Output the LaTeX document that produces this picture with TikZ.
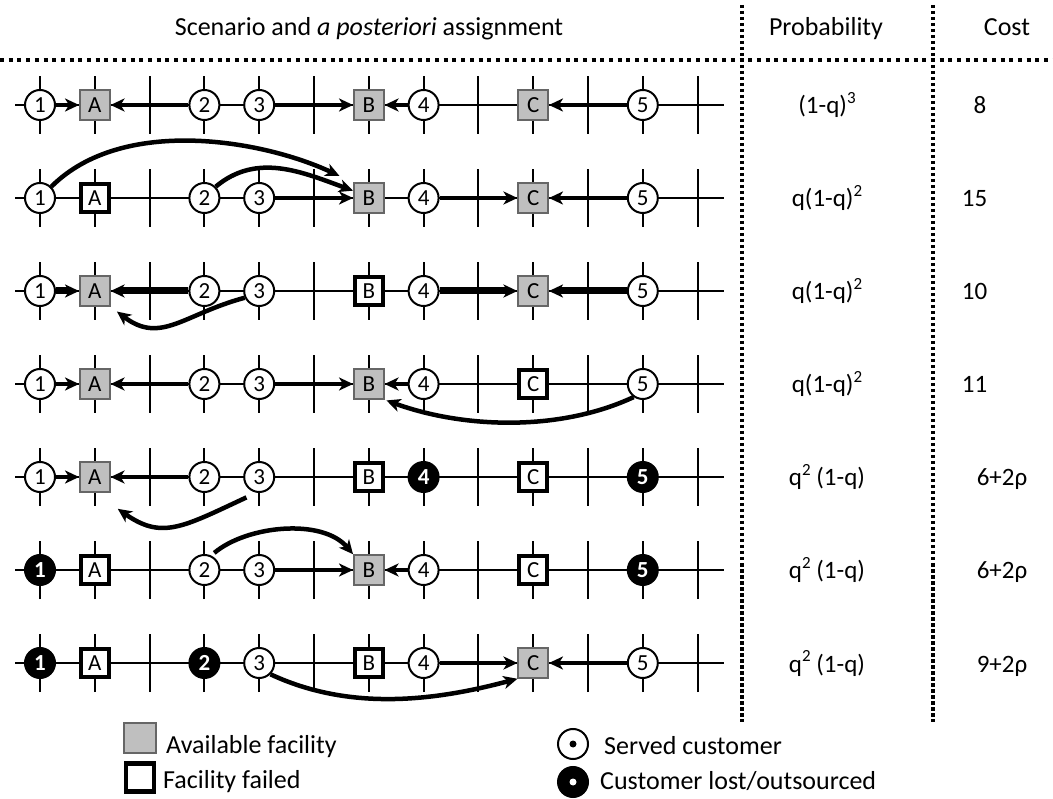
\documentclass[tikz,border=0pt]{standalone}
\usepackage{fontspec}
\setmainfont{Carlito}
\usetikzlibrary{arrows.meta}

\newcommand{\powr}[1]{\raisebox{0.42em}{\fontsize{17}{17}\selectfont #1}}

\tikzset{
  cust/.style={draw, circle, line width=2pt, fill=white, minimum size=30pt, inner sep=0pt, font=\fontsize{23}{23}\selectfont},
  lost/.style={cust, fill=black, text=white, font=\fontsize{23}{23}\selectfont\bfseries},
  fac/.style={draw=black!60, rectangle, line width=1.5pt, fill=black!25, minimum size=30pt, inner sep=0pt, font=\fontsize{23}{23}\selectfont},
  failed/.style={fac, draw=black, fill=white, line width=4.5pt, minimum size=28pt},
  assign/.style={-{Stealth[length=14pt,width=13pt,inset=4pt]}, line width=4.5pt},
  heavy/.style={assign, line width=7pt},
  street/.style={line width=2pt},
  hsep/.style={line width=4pt, dash pattern=on 4pt off 4.7pt},
  vsep/.style={line width=3.5pt, dash pattern=on 3.5pt off 2.5pt},
  head/.style={font=\fontsize{26}{26}\selectfont, anchor=base},
  txt/.style={font=\fontsize{25}{25}\selectfont, anchor=base},
  key/.style={font=\fontsize{26}{26}\selectfont, anchor=base west, inner sep=0pt}
}

\begin{document}
\begin{tikzpicture}[x=1pt, y=1pt]
  \useasboundingbox (0,0) rectangle (1053,-799);

  % table head
  \node[head] (hscen) at (369,-36) {Scenario and \textit{a posteriori} assignment};
  \node[head] (hprob) at (826,-36) {Probability};
  \node[head] (hcost) at (1007,-36) {Cost};
  \draw[hsep] (0,-60) -- (1053,-60);
  \draw[vsep] (742,-5) -- (742,-722);
  \draw[vsep] (933,-5) -- (933,-722);

  % the line with its sites, one per scenario
  \foreach \y in {-105,-198,...,-663} {
    \draw[street] (15,\y) -- (724,\y);
    \foreach \k in {0,...,12}
      \draw[street] ({40+54.8*\k},{\y-29}) -- ({40+54.8*\k},{\y+29});
  }

  % scenario 1: all facilities open
  \node[cust] (r1c1) at (40,-105) {1};
  \node[fac] (r1A) at (94.8,-105) {A};
  \node[cust] (r1c2) at (204.4,-105) {2};
  \node[cust] (r1c3) at (259.2,-105) {3};
  \node[fac] (r1B) at (368.8,-105) {B};
  \node[cust] (r1c4) at (423.6,-105) {4};
  \node[fac] (r1C) at (533.2,-105) {C};
  \node[cust] (r1c5) at (642.8,-105) {5};
  \draw[assign] (r1c1) -- (r1A);
  \draw[assign] (r1c2) -- (r1A);
  \draw[assign] (r1c3) -- (r1B);
  \draw[assign] (r1c4) -- (r1B);
  \draw[assign] (r1c5) -- (r1C);
  \node[txt] (r1p) at (827,-114) {(1-q)\powr{3}};
  \node[txt] (r1k) at (980,-114) {8};

  % scenario 2: A fails
  \node[cust] (r2c1) at (40,-198) {1};
  \node[failed] (r2A) at (94.8,-198) {A};
  \node[cust] (r2c2) at (204.4,-198) {2};
  \node[cust] (r2c3) at (259.2,-198) {3};
  \node[fac] (r2B) at (368.8,-198) {B};
  \node[cust] (r2c4) at (423.6,-198) {4};
  \node[fac] (r2C) at (533.2,-198) {C};
  \node[cust] (r2c5) at (642.8,-198) {5};
  \draw[assign, shorten >=15pt] (r2c1.north east) to[out=45, in=155, looseness=0.85] (r2B.north west);
  \draw[assign] (r2c2.north east) to[out=40, in=160] (r2B.155);
  \draw[assign] (r2c3) -- (r2B);
  \draw[assign] (r2c4) -- (r2C);
  \draw[assign] (r2c5) -- (r2C);
  \node[txt] (r2p) at (827,-207) {q(1-q)\powr{2}};
  \node[txt] (r2k) at (974.5,-207) {15};

  % scenario 3: B fails
  \node[cust] (r3c1) at (40,-291) {1};
  \node[fac] (r3A) at (94.8,-291) {A};
  \node[cust] (r3c2) at (204.4,-291) {2};
  \node[cust] (r3c3) at (259.2,-291) {3};
  \node[failed] (r3B) at (368.8,-291) {B};
  \node[cust] (r3c4) at (423.6,-291) {4};
  \node[fac] (r3C) at (533.2,-291) {C};
  \node[cust] (r3c5) at (642.8,-291) {5};
  \draw[heavy] (r3c1) -- (r3A);
  \draw[heavy] (r3c2) -- (r3A);
  \draw[assign, shorten >=8pt] (r3c3.205) to[out=195, in=-37, looseness=1.2] (r3A.south east);
  \draw[heavy] (r3c4) -- (r3C);
  \draw[heavy] (r3c5) -- (r3C);
  \node[txt] (r3p) at (827,-300) {q(1-q)\powr{2}};
  \node[txt] (r3k) at (974.5,-300) {10};

  % scenario 4: C fails
  \node[cust] (r4c1) at (40,-384) {1};
  \node[fac] (r4A) at (94.8,-384) {A};
  \node[cust] (r4c2) at (204.4,-384) {2};
  \node[cust] (r4c3) at (259.2,-384) {3};
  \node[fac] (r4B) at (368.8,-384) {B};
  \node[cust] (r4c4) at (423.6,-384) {4};
  \node[failed] (r4C) at (533.2,-384) {C};
  \node[cust] (r4c5) at (642.8,-384) {5};
  \draw[assign] (r4c1) -- (r4A);
  \draw[assign] (r4c2) -- (r4A);
  \draw[assign] (r4c3) -- (r4B);
  \draw[assign] (r4c4) -- (r4B);
  \draw[assign, shorten >=2pt] (r4c5.235) to[out=205, in=-20, looseness=0.85] (r4B.south east);
  \node[txt] (r4p) at (827,-393) {q(1-q)\powr{2}};
  \node[txt] (r4k) at (974.5,-393) {11};

  % scenario 5: B and C fail
  \node[cust] (r5c1) at (40,-477) {1};
  \node[fac] (r5A) at (94.8,-477) {A};
  \node[cust] (r5c2) at (204.4,-477) {2};
  \node[cust] (r5c3) at (259.2,-477) {3};
  \node[failed] (r5B) at (368.8,-477) {B};
  \node[lost] (r5c4) at (423.6,-477) {4};
  \node[failed] (r5C) at (533.2,-477) {C};
  \node[lost] (r5c5) at (642.8,-477) {5};
  \draw[assign] (r5c1) -- (r5A);
  \draw[assign] (r5c2) -- (r5A);
  \draw[assign, shorten <=11pt, shorten >=28pt] (r5c3.260) to[out=205, in=-35, looseness=1.3] (r5A.south);
  \node[txt] (r5p) at (827,-486) {q\powr{2} (1-q)};
  \node[txt] (r5k) at (1002,-486) {6+2ρ};

  % scenario 6: A and C fail
  \node[lost] (r6c1) at (40,-570) {1};
  \node[failed] (r6A) at (94.8,-570) {A};
  \node[cust] (r6c2) at (204.4,-570) {2};
  \node[cust] (r6c3) at (259.2,-570) {3};
  \node[fac] (r6B) at (368.8,-570) {B};
  \node[cust] (r6c4) at (423.6,-570) {4};
  \node[failed] (r6C) at (533.2,-570) {C};
  \node[lost] (r6c5) at (642.8,-570) {5};
  \draw[assign, shorten <=4pt] (r6c2.65) to[out=40, in=130, looseness=0.85] (r6B.north west);
  \draw[assign] (r6c3) -- (r6B);
  \draw[assign] (r6c4) -- (r6B);
  \node[txt] (r6p) at (827,-579) {q\powr{2} (1-q)};
  \node[txt] (r6k) at (1002,-579) {6+2ρ};

  % scenario 7: A and B fail
  \node[lost] (r7c1) at (40,-663) {1};
  \node[failed] (r7A) at (94.8,-663) {A};
  \node[lost] (r7c2) at (204.4,-663) {2};
  \node[cust] (r7c3) at (259.2,-663) {3};
  \node[failed] (r7B) at (368.8,-663) {B};
  \node[cust] (r7c4) at (423.6,-663) {4};
  \node[fac] (r7C) at (533.2,-663) {C};
  \node[cust] (r7c5) at (642.8,-663) {5};
  \draw[assign] (r7c3.south east) to[out=-25, in=195, looseness=0.9] (r7C.south west);
  \draw[assign] (r7c4) -- (r7C);
  \draw[assign] (r7c5) -- (r7C);
  \node[txt] (r7p) at (827,-672) {q\powr{2} (1-q)};
  \node[txt] (r7k) at (1002,-672) {9+2ρ};

  % legend
  \node[fac, minimum width=32pt] (keyopen) at (140,-738) {};
  \node[failed] (keyfail) at (140,-777.5) {};
  \node[key] (keyopent) at (166,-753) {Available facility};
  \node[key] (keyfailt) at (163,-788) {Facility failed};
  \node[cust] (keyserv) at (573,-744) {};
  \node[circle, fill=black, inner sep=0pt, minimum size=7pt] (keyservdot) at (keyserv) {};
  \node[lost] (keylost) at (573,-782) {};
  \node[circle, fill=white, inner sep=0pt, minimum size=7pt] (keylostdot) at (keylost) {};
  \node[key] (keyservt) at (604,-754) {Served customer};
  \node[key] (keylostt) at (600,-789) {Customer lost/outsourced};
\end{tikzpicture}
\end{document}
